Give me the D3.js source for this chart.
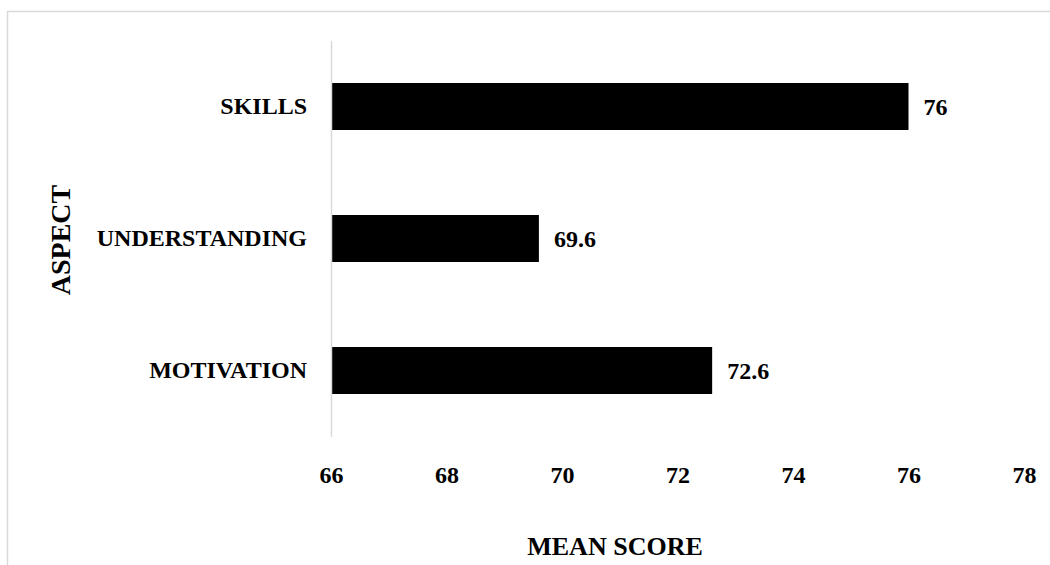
<!DOCTYPE html>
<html>
<head>
<meta charset="utf-8">
<script src="https://cdn.jsdelivr.net/npm/d3@7"></script>
<style>
  body { margin: 0; background: #fff; }
  svg text { font-family: "Liberation Serif", "Times New Roman", serif; font-weight: bold; fill: #000; }
</style>
</head>
<body>
<div id="viz"></div>
<script>
// chart data
var aspects = ['SKILLS', 'UNDERSTANDING', 'MOTIVATION'];
var meanScores = [76, 69.6, 72.6];
var xTicks = [66, 68, 70, 72, 74, 76, 78];

var width = 1050, height = 565;
var serif = '"Liberation Serif", "Times New Roman", serif';

var svg = d3.select('#viz').append('svg')
  .attr('width', width)
  .attr('height', height);

// outer chart frame (only top and left edges show)
svg.append('rect')
  .attr('x', 7.5).attr('y', 11.5)
  .attr('width', 1100).attr('height', 600)
  .style('fill', 'none')
  .style('stroke', '#d9d9d9')
  .style('stroke-width', 1.5);

var x = d3.scaleLinear().domain([66, 78]).range([331, 1024]);
var y = d3.scaleBand()
  .domain(aspects)
  .range([40.5, 436.5])
  .paddingInner(0.644)
  .paddingOuter(0.322);

var rows = aspects.map(function(a, i) { return {aspect: a, score: meanScores[i]}; });

// bars
svg.selectAll('rect.bar')
  .data(rows)
  .enter()
  .append('rect')
  .attr('class', 'bar')
  .attr('x', x(66))
  .attr('y', function(d) { return y(d.aspect); })
  .attr('width', function(d) { return x(d.score) - x(66); })
  .attr('height', y.bandwidth())
  .style('fill', '#000');

// value labels
svg.selectAll('text.val')
  .data(rows)
  .enter()
  .append('text')
  .attr('class', 'val')
  .attr('x', function(d) { return x(d.score) + 15; })
  .attr('y', function(d) { return y(d.aspect) + y.bandwidth() / 2; })
  .attr('dy', '0.35em')
  .style('font-size', '24px')
  .text(function(d) { return d.score; });

// category axis
var yAxis = svg.append('g')
  .attr('transform', 'translate(331,0)')
  .call(d3.axisLeft(y).tickSize(0).tickPadding(24));
yAxis.select('.domain').style('stroke', '#d9d9d9').style('stroke-width', 1.5);
yAxis.selectAll('text')
  .style('font-size', '24px')
  .style('font-family', serif)
  .style('font-weight', 'bold');

// value axis, labels only
var xAxis = svg.append('g')
  .attr('transform', 'translate(0,437)')
  .call(d3.axisBottom(x).tickValues(xTicks).tickSize(0).tickPadding(29));
xAxis.select('.domain').remove();
xAxis.selectAll('text')
  .style('font-size', '24px')
  .style('font-family', serif)
  .style('font-weight', 'bold');

// axis titles
svg.append('text')
  .attr('x', 615).attr('y', 555)
  .attr('text-anchor', 'middle')
  .style('font-size', '26px')
  .text('MEAN SCORE');

svg.append('text')
  .attr('transform', 'translate(70,240) rotate(-90)')
  .attr('text-anchor', 'middle')
  .style('font-size', '28px')
  .text('ASPECT');
</script>
</body>
</html>
